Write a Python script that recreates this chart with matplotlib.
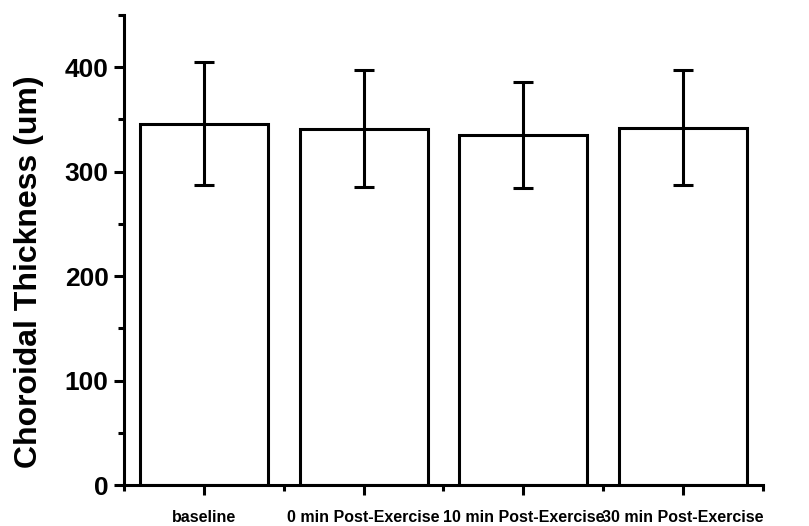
import matplotlib
matplotlib.use('Agg')
import matplotlib.pyplot as plt
import numpy as np

plt.rcParams['font.family'] = ['Liberation Sans', 'DejaVu Sans']
plt.rcParams['font.weight'] = 'bold'

# data
groups = ['baseline', '0 min Post-Exercise', '10 min Post-Exercise', '30 min Post-Exercise']
thickness = [346, 341, 335, 342]
sd = [59, 56, 51, 55]

fig = plt.figure(figsize=(8.09, 5.26), dpi=100)
ax = fig.add_axes([0.1533, 0.0779, 0.7898, 0.8936])

x = np.arange(len(groups))
ax.bar(x, thickness, width=0.8, color='white', edgecolor='black', linewidth=2.2, zorder=2)
ax.errorbar(x, thickness, yerr=sd, fmt='none', ecolor='black', elinewidth=2.2,
            capsize=7.5, capthick=2.2, zorder=3)

ax.set_xlim(-0.5, 3.5)
ax.set_ylim(0, 450)
ax.set_xticks(x)
ax.set_xticklabels(groups, fontsize=11.5, fontweight='bold')
ax.set_xticks(np.arange(-0.5, 3.6, 1.0), minor=True)
ax.set_yticks([0, 100, 200, 300, 400])
ax.set_yticks(np.arange(50, 451, 100), minor=True)
for lab in ax.get_yticklabels():
    lab.set_fontsize(19)
    lab.set_fontweight('bold')

ax.set_ylabel('Choroidal Thickness (um)', fontsize=23, fontweight='bold')
ax.yaxis.set_label_coords(-0.125, 0.453)

for side in ['top', 'right']:
    ax.spines[side].set_visible(False)
for side in ['left', 'bottom']:
    ax.spines[side].set_linewidth(2.2)

ax.tick_params(axis='both', which='major', direction='out', length=7, width=2.2)
ax.tick_params(axis='both', which='minor', direction='out', length=4, width=2.2)
ax.tick_params(axis='x', which='major', pad=11)
ax.tick_params(axis='y', which='major', pad=4)

fig.savefig('out.png', dpi=100, facecolor='white')
